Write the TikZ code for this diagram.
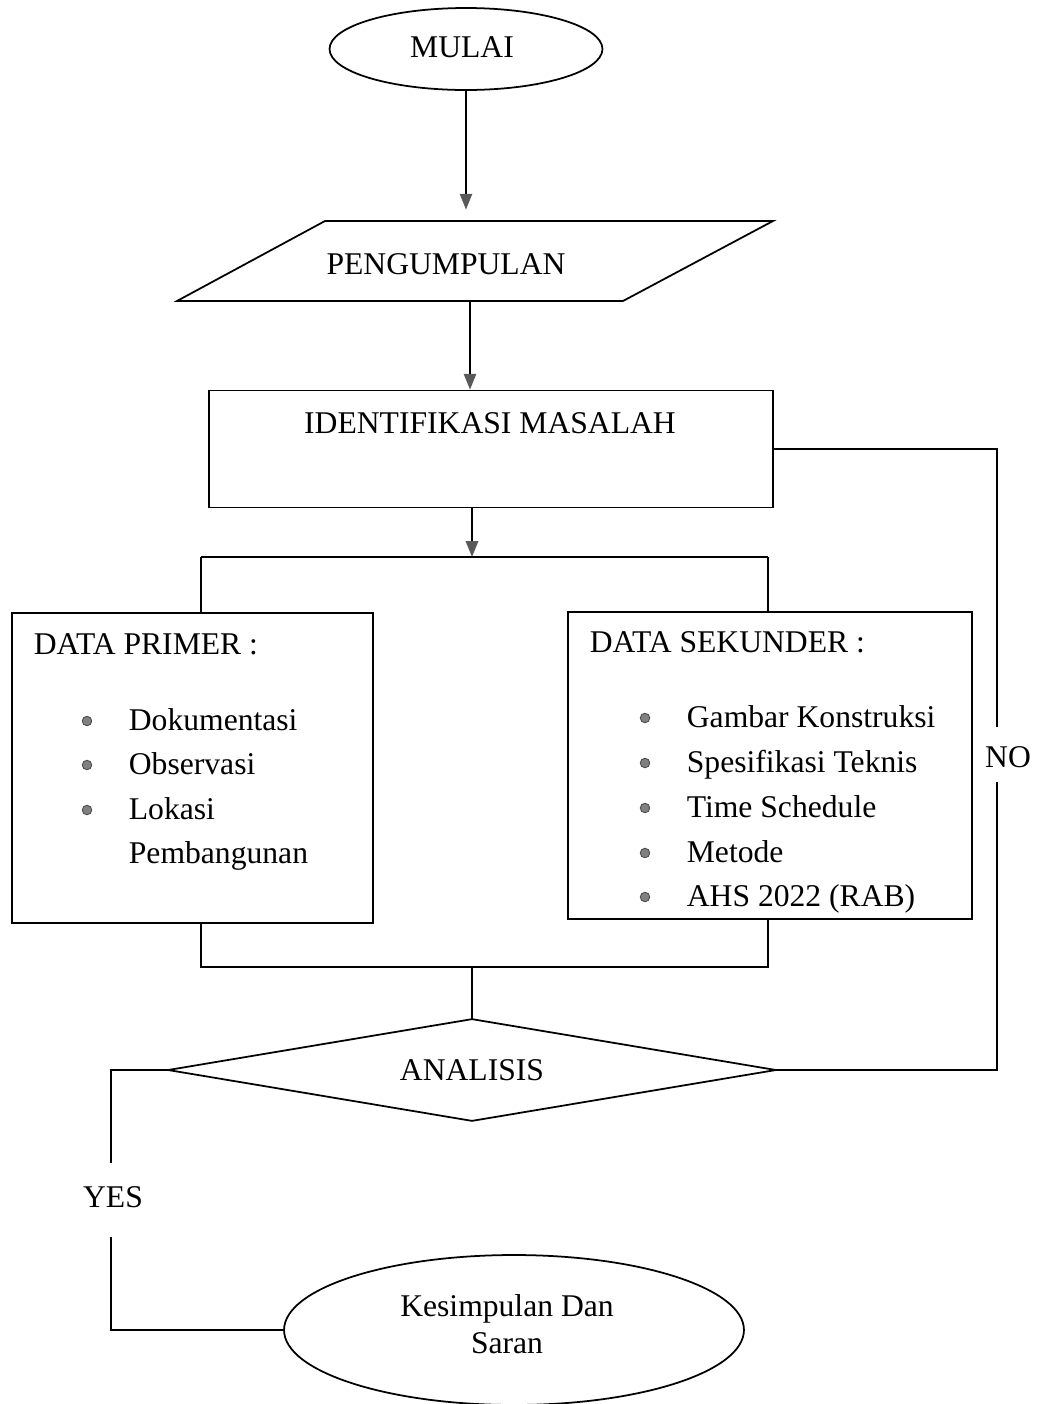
\documentclass[tikz,border=0pt]{standalone}
\usepackage{fontspec}
\setmainfont{Liberation Serif}
\usetikzlibrary{arrows.meta,shapes.geometric}
\begin{document}
\begin{tikzpicture}[x=0.02cm,y=-0.02cm,line width=1pt,
  every node/.style={font=\fontsize{18}{22}\selectfont,inner sep=0pt},
  box/.style={draw,rectangle},
  arr/.style={-{Triangle[length=9pt,width=7pt,color=black!65]}},
  bul/.style={circle,fill=black!50,draw=black!70,line width=0.5pt,minimum size=0.19cm},
  item/.style={anchor=base west},
  cut/.style={fill=white,anchor=base,inner xsep=1pt}]

\useasboundingbox (0,0) rectangle (1042,1404);

% start
\node[draw,ellipse,minimum width=5.46cm,minimum height=1.64cm] (mulai) at (466,49) {};
\node[anchor=base] (mulaitxt) at (462,57) {MULAI};

% data collection (parallelogram)
\draw (177,301) -- (325,221) -- (773,221) -- (623,301) -- cycle;
\node[minimum width=8.9cm,minimum height=1.6cm] (peng) at (470,261) {};
\node[anchor=base] (pengtxt) at (446,274) {PENGUMPULAN};

% problem identification
\node[box,minimum width=11.28cm,minimum height=2.34cm] (ident) at (491,449) {};
\node[anchor=base] (identtxt) at (490,433) {IDENTIFIKASI MASALAH};

% data boxes
\node[box,minimum width=7.22cm,minimum height=6.2cm] (primer) at (192.5,768) {};
\node[box,minimum width=8.08cm,minimum height=6.14cm] (sek) at (770,765.5) {};

\node[item] (ptitle) at (33,654) {DATA PRIMER :};
\node[item] (p1) at (128,730) {Dokumentasi};
\node[item] (p2) at (128,774) {Observasi};
\node[item] (p3) at (128,819) {Lokasi};
\node[item] (p4) at (128,863) {Pembangunan};
\node[bul] (pb1) at (87,721) {};
\node[bul] (pb2) at (87,765) {};
\node[bul] (pb3) at (87,810) {};

\node[item] (stitle) at (589,652) {DATA SEKUNDER :};
\node[item] (s1) at (686,727) {Gambar Konstruksi};
\node[item] (s2) at (686,772) {Spesifikasi Teknis};
\node[item] (s3) at (686,817) {Time Schedule};
\node[item] (s4) at (686,862) {Metode};
\node[item] (s5) at (686,906) {AHS 2022 (RAB)};
\node[bul] (sb1) at (645,718) {};
\node[bul] (sb2) at (645,763) {};
\node[bul] (sb3) at (645,808) {};
\node[bul] (sb4) at (645,853) {};
\node[bul] (sb5) at (645,897) {};

% analysis (decision diamond drawn through the node's anchors)
\node[minimum width=12.12cm,minimum height=2cm] (ana) at (472,1070) {ANALISIS};
\draw (ana.north) -- (ana.east) -- (ana.south) -- (ana.west) -- cycle;

% conclusion
\node[draw,ellipse,minimum width=9.2cm,minimum height=3cm] (kes) at (514,1330) {};
\node[anchor=base] (kes1) at (507,1316) {Kesimpulan Dan};
\node[anchor=base] (kes2) at (507,1353) {Saran};

% connectors
\draw[arr,shorten >=6pt] (mulai.south) -- (mulai.south |- peng.north);
\draw[arr] (peng.south) -- (peng.south |- ident.north);

\coordinate (split) at (472,557);
\coordinate (sl) at (201,557);
\coordinate (sr) at (768,557);
\draw[arr] (ident.south -| split) -- (split);
\draw (sl) -- (sr);
\draw (sl) -- (sl |- primer.north);
\draw (sr) -- (sr |- sek.north);

\coordinate (jl) at (201,967);
\coordinate (jr) at (768,967);
\draw (jl |- primer.south) -- (jl) -- (jr) -- (jr |- sek.south);
\draw (ana.north |- jl) -- (ana.north);

% NO branch back to the problem identification
\coordinate (nx) at (997,0);
\draw (ident.east) -| (nx |- ana.east) -- (ana.east);
\node[cut,text height=22.7pt,text depth=8.5pt] (no) at (1008,767) {NO};

% YES branch to the conclusion
\coordinate (yx) at (111,0);
\draw (ana.west) -| (yx |- kes.west) -- (kes.west);
\node[cut,text height=25pt,text depth=17pt] (yes) at (113,1207) {YES};
\end{tikzpicture}
\end{document}
